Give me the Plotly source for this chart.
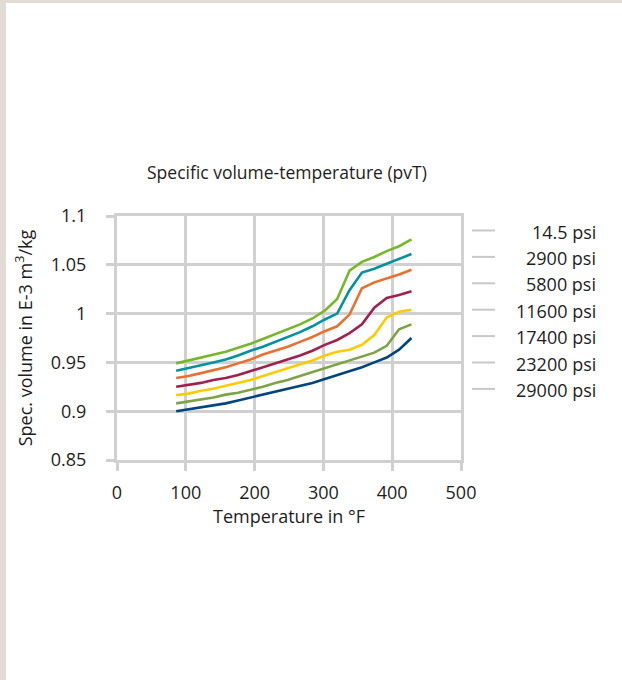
import plotly.graph_objects as go

# Temperatures in °F
temperature_f = [86, 104, 122, 140, 158, 176, 194, 212, 230, 248, 266, 284, 302, 320, 338, 356, 374, 392, 410, 428]

series_names = ["14.5 psi", "2900 psi", "5800 psi", "11600 psi", "17400 psi", "23200 psi", "29000 psi"]

vol_14_5 = [0.949, 0.952, 0.955, 0.958, 0.961, 0.965, 0.969, 0.974, 0.979, 0.984, 0.989, 0.995, 1.003, 1.015, 1.044, 1.053, 1.058, 1.064, 1.069, 1.076]
vol_2900 = [0.9415, 0.944, 0.947, 0.950, 0.953, 0.957, 0.962, 0.966, 0.971, 0.976, 0.981, 0.987, 0.994, 1.000, 1.024, 1.042, 1.046, 1.051, 1.056, 1.061]
vol_5800 = [0.934, 0.936, 0.939, 0.942, 0.945, 0.949, 0.953, 0.958, 0.962, 0.966, 0.971, 0.976, 0.982, 0.987, 0.999, 1.026, 1.032, 1.036, 1.040, 1.045]
vol_11600 = [0.925, 0.927, 0.929, 0.932, 0.934, 0.937, 0.941, 0.945, 0.949, 0.953, 0.957, 0.962, 0.968, 0.973, 0.980, 0.989, 1.006, 1.016, 1.019, 1.023]
vol_17400 = [0.9165, 0.918, 0.921, 0.923, 0.926, 0.929, 0.932, 0.936, 0.940, 0.944, 0.948, 0.952, 0.957, 0.961, 0.963, 0.968, 0.978, 0.996, 1.002, 1.004]
vol_23200 = [0.908, 0.910, 0.912, 0.914, 0.917, 0.919, 0.922, 0.925, 0.929, 0.932, 0.936, 0.940, 0.944, 0.948, 0.952, 0.956, 0.960, 0.967, 0.984, 0.989]
vol_29000 = [0.900, 0.902, 0.904, 0.906, 0.908, 0.911, 0.914, 0.917, 0.920, 0.923, 0.926, 0.929, 0.933, 0.937, 0.941, 0.945, 0.950, 0.955, 0.963, 0.975]

series_values = [vol_14_5, vol_2900, vol_5800, vol_11600, vol_17400, vol_23200, vol_29000]
colors = ["#76b82a", "#00929f", "#e9712f", "#a2214b", "#fdcb00", "#7da444", "#00457e"]

x_ticks = [0, 100, 200, 300, 400, 500]
y_ticks = [0.85, 0.9, 0.95, 1.0, 1.05, 1.1]
y_tick_labels = ["0.85", "0.9", "0.95", "1", "1.05", "1.1"]

W, H = 622, 680
L, R, T, B = 117, 161, 216, 220
PW = W - L - R
PH = H - T - B

def px_x(p):
    return (p - L) / PW

def px_y(p):
    return (H - B - p) / PH

FONT = "Open Sans"
TXT = "#1e1e1e"
GRID = "#d0d0d0"
FS = 18

fig = go.Figure()
for name, vals, col in zip(series_names, series_values, colors):
    fig.add_trace(go.Scatter(x=temperature_f, y=vals, mode="lines", name=name,
                             line=dict(color=col, width=2.6), showlegend=False))

shapes = []
annotations = []
# legend (manual, gray symbols, right-aligned text)
leg_y0 = 230.5
leg_dy = 26.4
for i, name in enumerate(series_names):
    yp = px_y(leg_y0 + i * leg_dy)
    shapes.append(dict(type="line", xref="paper", yref="paper", x0=px_x(472), x1=px_x(495),
                       y0=yp, y1=yp, line=dict(color="#c8c8c8", width=2)))
    annotations.append(dict(text=name, xref="paper", yref="paper", x=px_x(598), y=px_y(leg_y0 + i * leg_dy + 1),
                            xanchor="right", yanchor="middle", showarrow=False,
                            font=dict(family=FONT, size=FS, color=TXT)))

# beige frame strips
shapes.append(dict(type="rect", xref="paper", yref="paper", x0=px_x(0), x1=px_x(6),
                   y0=px_y(H), y1=px_y(0), fillcolor="#e1dcd3", line=dict(width=0), layer="below"))
shapes.append(dict(type="rect", xref="paper", yref="paper", x0=px_x(0), x1=px_x(W),
                   y0=px_y(3), y1=px_y(0), fillcolor="#e1dcd3", line=dict(width=0), layer="below"))

annotations.append(dict(text="Specific volume-temperature (pvT)", xref="paper", yref="paper",
                        x=px_x(287), y=px_y(172), xanchor="center", yanchor="middle",
                        showarrow=False, font=dict(family=FONT, size=17.5, color=TXT)))

fig.update_layout(
    width=W, height=H,
    margin=dict(l=L, r=R, t=T, b=B, pad=0),
    paper_bgcolor="white", plot_bgcolor="white",
    font=dict(family=FONT, size=FS, color=TXT),
    shapes=shapes, annotations=annotations,
    showlegend=False,
    xaxis=dict(range=[0, 500], tickvals=x_ticks, showgrid=True, gridcolor=GRID, gridwidth=3,
               zeroline=False, showline=True, linecolor=GRID, linewidth=3, mirror=True,
               ticks="outside", ticklen=8, tickwidth=3,
               tickcolor=GRID, ticklabelstandoff=6, tickfont=dict(size=FS),
               title=dict(text="Temperature in °F", standoff=0, font=dict(size=FS))),
    yaxis=dict(range=[0.85, 1.1], tickvals=y_ticks, ticktext=y_tick_labels, showgrid=True,
               gridcolor=GRID, gridwidth=3, zeroline=False, showline=True, linecolor=GRID,
               linewidth=3, mirror=True, ticks="outside",
               ticklen=8, tickwidth=3, tickcolor=GRID, ticklabelstandoff=16, tickfont=dict(size=FS),
               title=dict(text="Spec. volume in E-3 m<sup>3</sup>/kg", standoff=14, font=dict(size=FS))),
)

fig.write_html("out.html", config={"displayModeBar": False, "staticPlot": True},
               post_script="document.body.style.margin='0';document.body.style.padding='0';document.body.style.overflow='hidden';document.documentElement.style.overflow='hidden';")
